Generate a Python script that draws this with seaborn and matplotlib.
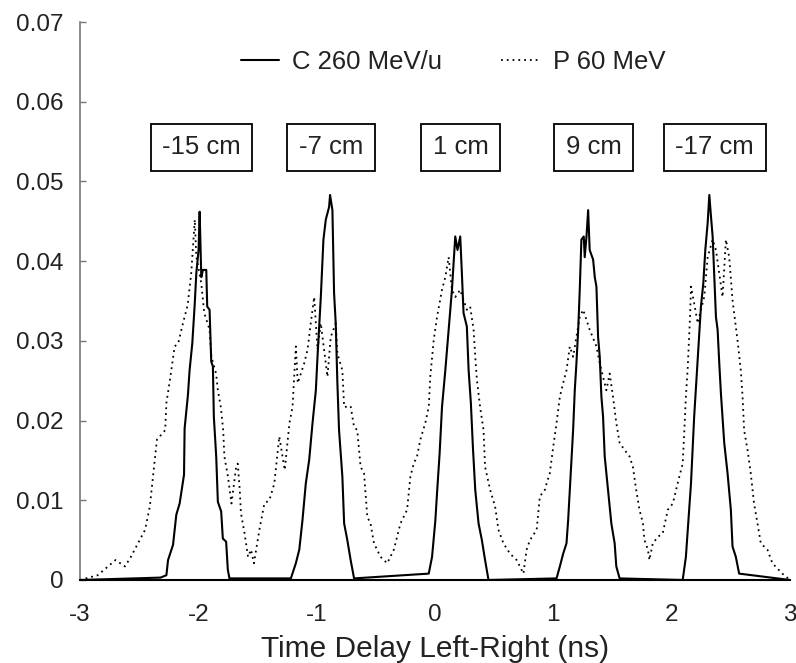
import numpy as np
import pandas as pd
import matplotlib
matplotlib.use("Agg")
import matplotlib.pyplot as plt
import seaborn as sns

# ---- data ----
c_x = [-3.0, -2.32, -2.27, -2.256, -2.214, -2.186, -2.158, -2.121, -2.116, -2.088, -2.074, -2.051,
       -2.031, -2.017, -1.998, -1.989, -1.975, -1.961, -1.933, -1.925, -1.905, -1.891, -1.877,
       -1.869, -1.849, -1.835, -1.807, -1.793, -1.765, -1.751, -1.737,
       -1.218, -1.176, -1.147, -1.12, -1.092, -1.063, -1.035, -1.007, -0.993, -0.965, -0.943,
       -0.923, -0.895, -0.887, -0.867, -0.853, -0.839, -0.825, -0.811, -0.783, -0.768, -0.741,
       -0.713, -0.684,
       -0.053, -0.025, 0.003, 0.017, 0.039, 0.059, 0.087, 0.115, 0.143, 0.171, 0.19, 0.213,
       0.227, 0.241, 0.269, 0.284, 0.303, 0.32, 0.34, 0.368, 0.396, 0.423, 0.452,
       1.027, 1.055, 1.083, 1.111, 1.125, 1.145, 1.167, 1.181, 1.195, 1.21, 1.223, 1.237, 1.257,
       1.265, 1.28, 1.294, 1.307, 1.336, 1.35, 1.364, 1.378, 1.392, 1.406, 1.42, 1.434, 1.462,
       1.49, 1.518, 1.532, 1.56,
       2.093, 2.12, 2.149, 2.163, 2.19, 2.211, 2.233, 2.247, 2.267, 2.284, 2.304, 2.318, 2.332,
       2.346, 2.36, 2.374, 2.388, 2.402, 2.416, 2.444, 2.472, 2.5, 2.514, 2.542, 2.57, 3.0]
c_y = [0.0, 0.0003, 0.0006, 0.0025, 0.0044, 0.0082, 0.0096, 0.0132, 0.019, 0.0232, 0.0263, 0.0297,
       0.0345, 0.0385, 0.0414, 0.0462, 0.038, 0.0389, 0.0389, 0.0343, 0.0339, 0.0274, 0.0268,
       0.0205, 0.0155, 0.0098, 0.0086, 0.0052, 0.0048, 0.0013, 0.0002,
       0.0002, 0.0021, 0.0038, 0.0075, 0.0121, 0.0151, 0.0197, 0.0238, 0.028, 0.0355, 0.0427,
       0.0452, 0.0468, 0.0483, 0.0464, 0.036, 0.0322, 0.0247, 0.0188, 0.013, 0.0071, 0.005,
       0.0025, 0.0002,
       0.0008, 0.0029, 0.0075, 0.0109, 0.0159, 0.0217, 0.0263, 0.0314, 0.0364, 0.0431, 0.0414, 0.0431,
       0.0385, 0.0335, 0.0318, 0.0263, 0.0222, 0.0167, 0.0113, 0.0071, 0.005, 0.0025, 0.0,
       0.0002, 0.0017, 0.0033, 0.0046, 0.0075, 0.013, 0.0188, 0.0238, 0.0272, 0.0314, 0.0364, 0.0427,
       0.0431, 0.0405, 0.0431, 0.0464, 0.0414, 0.0402, 0.038, 0.0368, 0.0305, 0.028, 0.023, 0.0205,
       0.0155, 0.0113, 0.0071, 0.0046, 0.0017, 0.0002,
       0.0, 0.0029, 0.0092, 0.0121, 0.0205, 0.0255, 0.0309, 0.0343, 0.0372, 0.0414, 0.0448, 0.0483,
       0.0456, 0.0431, 0.038, 0.033, 0.0314, 0.0272, 0.0234, 0.0172, 0.0134, 0.0088, 0.0042, 0.0029,
       0.0008, 0.0]

p_x = [-3.0, -2.85, -2.70, -2.62, -2.57, -2.51, -2.45, -2.41, -2.38, -2.35, -2.28, -2.27, -2.24,
       -2.20, -2.17, -2.13, -2.09, -2.06, -2.03, -2.017, -1.975, -1.95, -1.905, -1.89, -1.85, -1.835,
       -1.81, -1.79, -1.78, -1.75, -1.72, -1.68, -1.667, -1.65, -1.64, -1.61, -1.58, -1.555, -1.53,
       -1.484, -1.442, -1.40, -1.358, -1.316, -1.27, -1.23, -1.204, -1.176, -1.16, -1.105, -1.077,
       -1.05, -1.021, -0.993, -0.965, -0.909, -0.881, -0.839, -0.825, -0.783, -0.768, -0.713, -0.684,
       -0.657, -0.629, -0.60, -0.572, -0.545, -0.516, -0.46, -0.404, -0.348, -0.292, -0.236, -0.208,
       -0.18, -0.152, -0.124, -0.082, -0.053, -0.04, -0.011, 0.017, 0.059, 0.087, 0.115, 0.143,
       0.171, 0.213, 0.269, 0.297, 0.326, 0.34, 0.354, 0.381, 0.41, 0.423, 0.466, 0.508, 0.536,
       0.578, 0.634, 0.69, 0.747, 0.774, 0.802, 0.859, 0.886, 0.928, 0.943, 0.97, 0.999, 1.027,
       1.055, 1.083, 1.111, 1.139, 1.167, 1.223, 1.252, 1.307, 1.364, 1.392, 1.42, 1.448, 1.476,
       1.504, 1.532, 1.56, 1.602, 1.644, 1.672, 1.70, 1.728, 1.757, 1.77, 1.799, 1.812, 1.84,
       1.883, 1.925, 1.967, 2.01, 2.037, 2.065, 2.093, 2.107, 2.12, 2.136, 2.155, 2.163, 2.19,
       2.22, 2.247, 2.275, 2.304, 2.346, 2.374, 2.43, 2.458, 2.486, 2.514, 2.556, 2.584, 2.599,
       2.612, 2.641, 2.668, 2.696, 2.725, 2.753, 2.809, 2.851, 2.935, 3.0]
p_y = [0.0, 0.0006, 0.0025, 0.0017, 0.0029, 0.0046, 0.0063, 0.0092, 0.0134, 0.0176, 0.0188, 0.0222,
       0.0251, 0.0293, 0.0297, 0.0322, 0.0345, 0.0385, 0.0452, 0.0406, 0.0372, 0.0335, 0.0314,
       0.028, 0.0259, 0.0238, 0.0217, 0.0188, 0.0155, 0.013, 0.0096, 0.0142, 0.0146, 0.0113, 0.0084,
       0.0059, 0.0029, 0.0038, 0.0021, 0.0063, 0.0096, 0.0100, 0.0121, 0.018, 0.0138, 0.0197, 0.0217,
       0.0293, 0.0247, 0.0272, 0.0289, 0.0322, 0.0355, 0.0289, 0.0322, 0.0255, 0.0305, 0.0322,
       0.0284, 0.0263, 0.0217, 0.0218, 0.0192, 0.0188, 0.0142, 0.0134, 0.0079, 0.0071, 0.0046,
       0.0029, 0.0021, 0.0038, 0.0071, 0.0088, 0.013, 0.0146, 0.0155, 0.0176, 0.0197, 0.0217,
       0.0255, 0.0301, 0.033, 0.0364, 0.038, 0.0405, 0.0364, 0.0355, 0.0364, 0.0339, 0.0343,
       0.0314, 0.028, 0.0251, 0.0217, 0.0188, 0.0142, 0.0113, 0.0092, 0.0063, 0.0046, 0.0033,
       0.0025, 0.0008, 0.0038, 0.005, 0.0063, 0.0105, 0.0113, 0.0121, 0.0134, 0.0167, 0.0197,
       0.023, 0.0247, 0.0263, 0.0293, 0.028, 0.033, 0.0339, 0.0314, 0.0293, 0.0272, 0.0255,
       0.0238, 0.0259, 0.023, 0.0197, 0.0172, 0.0163, 0.0155, 0.0142, 0.0113, 0.0088, 0.0071,
       0.005, 0.0038, 0.0025, 0.0046, 0.0054, 0.0059, 0.0088, 0.0096, 0.0113, 0.013, 0.0146,
       0.0188, 0.023, 0.0268, 0.033, 0.0368, 0.0347, 0.0322, 0.0339, 0.0355, 0.0405, 0.0427,
       0.0414, 0.0355, 0.0427, 0.0405, 0.0351, 0.0301, 0.0263, 0.023, 0.0188, 0.0163, 0.0134,
       0.0096, 0.0071, 0.0046, 0.0038, 0.0021, 0.0008, 0.0]

series_names = ["C 260 MeV/u", "P 60 MeV"]
box_labels = ["-15 cm", "-7 cm", "1 cm", "9 cm", "-17 cm"]
x_ticks = [-3, -2, -1, 0, 1, 2, 3]
y_ticks = [0, 0.01, 0.02, 0.03, 0.04, 0.05, 0.06, 0.07]
y_tick_labels = ["0", "0.01", "0.02", "0.03", "0.04", "0.05", "0.06", "0.07"]
x_label = "Time Delay Left-Right (ns)"

# ---- figure ----
sns.set_theme(style="white")
plt.rcParams['font.family'] = ['Liberation Sans', 'DejaVu Sans']

fig = plt.figure(figsize=(7.96, 6.63), dpi=100)
ax = fig.add_axes([0.1005, 0.1252, 0.892, 0.8416])

df_c = pd.DataFrame({"x": c_x, "y": c_y})
df_p = pd.DataFrame({"x": p_x, "y": p_y})

sns.lineplot(data=df_p, x="x", y="y", ax=ax, sort=False, estimator=None,
             color="black", linewidth=1.3, linestyle=(0, (1, 2.2)), label=series_names[1])
sns.lineplot(data=df_c, x="x", y="y", ax=ax, sort=False, estimator=None,
             color="black", linewidth=1.5, label=series_names[0])

ax.set_xlim(-3, 3)
ax.set_ylim(0, 0.07)
ax.set_xticks(x_ticks)
ax.set_xticklabels([str(t) for t in x_ticks])
ax.set_yticks(y_ticks)
ax.set_yticklabels(y_tick_labels)
ax.set_xlabel(x_label, fontsize=21.5, color="#222222", labelpad=7)
ax.set_ylabel("")

for s in ["top", "right"]:
    ax.spines[s].set_visible(False)
ax.spines["left"].set_color("#777777")
ax.spines["left"].set_linewidth(1.2)
ax.spines["bottom"].set_color("black")
ax.spines["bottom"].set_linewidth(1.5)

ax.tick_params(axis="y", direction="in", length=4, width=1, color="#777777",
               labelsize=17.5, labelcolor="#222222", pad=12, left=True)
ax.tick_params(axis="x", length=0, labelsize=17.5, labelcolor="#222222", pad=17)

# legend
handles, labels = ax.get_legend_handles_labels()
order = [labels.index(n) for n in series_names]
ax.legend([handles[i] for i in order], [labels[i] for i in order],
          loc="center", bbox_to_anchor=(0.569, 0.9065), bbox_transform=fig.transFigure,
          ncol=2, frameon=False, fontsize=18.5, handlelength=1.5, handletextpad=0.5,
          columnspacing=2.3, labelcolor="#222222")

# box labels above each pair of peaks
label_pos_x = [-1.973, -0.878, 0.216, 1.341, 2.363]
for lx, txt in zip(label_pos_x, box_labels):
    ax.text(lx, 0.0543, txt, ha="center", va="center", fontsize=18.5, color="#222222",
            bbox=dict(boxstyle="square,pad=0.45", facecolor="white", edgecolor="black", linewidth=1.3))

fig.savefig("out.png", dpi=100)
